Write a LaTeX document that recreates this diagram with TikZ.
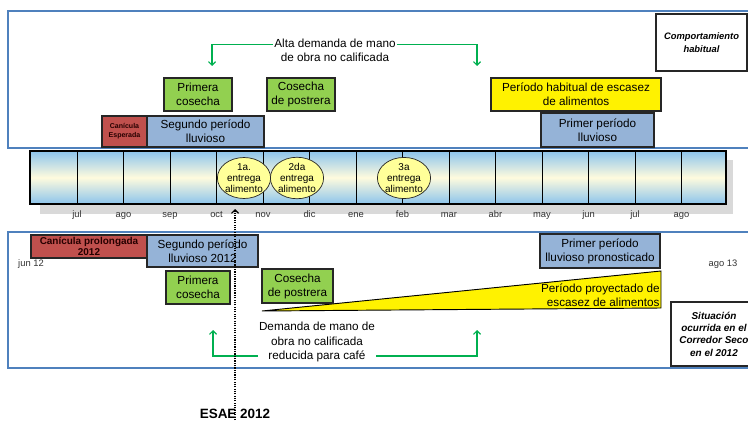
\documentclass[tikz,border=0pt]{standalone}
\usepackage{fontspec}
\setmainfont{Liberation Sans}
\usetikzlibrary{shapes.geometric,arrows.meta}
\definecolor{panelblue}{RGB}{79,129,189}
\definecolor{boxgreen}{RGB}{146,208,80}
\definecolor{boxblue}{RGB}{149,179,215}
\definecolor{boxred}{RGB}{192,80,77}
\definecolor{arrowgreen}{RGB}{0,176,80}
\definecolor{barblue}{RGB}{140,196,236}
\definecolor{barpale}{RGB}{255,251,222}
\definecolor{eggyellow}{RGB}{255,255,153}

\begin{document}
\begin{tikzpicture}[x=0.03cm,y=-0.03cm,
  panel/.style={draw=panelblue, line width=1pt},
  box/.style={draw=black!85, line width=0.9pt, align=center, inner sep=1pt,
    font=\fontsize{10}{12}\selectfont},
  harvest/.style={box, fill=boxgreen},
  rain/.style={box, fill=boxblue},
  drought/.style={box, fill=boxred, text=black!85!red,
    font=\bfseries\fontsize{6}{7.5}\selectfont},
  scarcity/.style={box, fill=yellow},
  note/.style={box, fill=white, font=\bfseries\itshape\fontsize{8}{10.5}\selectfont},
  plaintext/.style={align=center, inner sep=1pt, font=\fontsize{10}{11.8}\selectfont},
  month/.style={inner sep=1pt, text=black!80, text height=1.6ex, text depth=0.4ex,
    font=\fontsize{8}{9}\selectfont},
  delivery/.style={ellipse, draw=black!85, fill=eggyellow, line width=0.6pt,
    minimum width=1.56cm, minimum height=1.14cm, inner sep=0pt, align=center,
    font=\fontsize{8.5}{9.4}\selectfont},
  demand/.style={draw=arrowgreen, line width=1pt, -{Straight Barb[length=3pt,width=6pt]}}]

\useasboundingbox (0,0) rectangle (748,422);

% the two panels
\draw [panel] (8,11) rectangle (770,148);
\draw [panel] (8,232) rectangle (770,368);

% time line
\fill [black!15] (40,160) rectangle (733,214);
\shade [top color=barblue, bottom color=barblue, middle color=barpale]
  (30,151) rectangle (726,204);
\foreach \i in {1,...,14}
  \draw [line width=0.8pt] ({30.5+\i*46.5},151) -- ({30.5+\i*46.5},204);
\draw [line width=0.9pt] (30,151) rectangle (726,204);

\foreach \m [count=\i] in {jul,ago,sep,oct,nov,dic,ene,feb,mar,abr,may,jun,jul,ago}
  \node [month] (m\i) at ({30.5+\i*46.5},214) {\m};

\node [delivery] (e1) at (244,178) {1a.\\entrega\\alimento};
\node [delivery] (e2) at (297,178) {2da\\entrega\\alimento};
\node [delivery] (e3) at (404,178) {3a\\entrega\\alimento};

% usual behaviour
\node [harvest, minimum width=2.04cm, minimum height=0.99cm] (prim1) at (198,94.5) {Primera\\cosecha};
\node [harvest, minimum width=2.04cm, minimum height=0.99cm] (post1) at (301,94.5) {Cosecha\\de postrera};
\node [drought, minimum width=1.35cm, minimum height=0.93cm] (can1) at (124.5,131.5) {Canícula\\Esperada};
\node [rain, minimum width=3.51cm, minimum height=0.93cm] (seg1) at (205.5,131.5) {Segundo período\\lluvioso};
\node [scarcity, minimum width=5.1cm, minimum height=0.99cm] (esc1) at (576,94.5) {Período habitual de escasez\\de alimentos};
\node [rain, minimum width=3.39cm, minimum height=1.02cm] (pri1) at (597.5,130) {Primer período\\lluvioso};
\node [note, minimum width=2.73cm, minimum height=1.71cm] (comp) at (701.5,42.5) {Comportamiento\\habitual};

\node [plaintext] (alta) at (335,50.5) {Alta demanda de mano\\de obra no calificada};
\coordinate (alta l) at (212,66);
\coordinate (alta r) at (477,66);
\draw [demand] ([yshift=0.19cm]alta.west) -| (alta l);
\draw [demand] ([yshift=0.19cm]alta.east) -| (alta r);

% what happened in 2012
\fill [yellow] (262,311) -- (661,271) -- (661,308) -- cycle;
\draw [line width=0.8pt] (262,311) -- (661,271) -- (661,308) -- cycle;
\node [plaintext, anchor=east, align=right] (proy) at (661,295) {Período proyectado de\\escasez de alimentos};

\node [drought, minimum width=3.48cm, minimum height=0.69cm,
  font=\bfseries\fontsize{8.5}{9.4}\selectfont] (can2) at (89,246.5) {Canícula prolongada\\2012};
\node [rain, minimum width=3.33cm, minimum height=0.96cm] (seg2) at (202.5,251) {Segundo período\\lluvioso 2012};
\node [harvest, minimum width=1.92cm, minimum height=0.99cm] (prim2) at (198,287.5) {Primera\\cosecha};
\node [harvest, minimum width=2.13cm, minimum height=1.02cm] (post2) at (297.5,286) {Cosecha\\de postrera};
\node [rain, minimum width=3.6cm, minimum height=1.02cm] (pri2) at (600,251) {Primer período\\lluvioso pronosticado};
\node [note, minimum width=2.58cm, minimum height=1.92cm,
  font=\bfseries\itshape\fontsize{8.5}{10.5}\selectfont] (sit) at (714,334)
  {Situación\\ocurrida en el\\Corredor Seco\\en el 2012};

\node [month] (jun12) at (31,263) {jun 12};
\node [month] (ago13) at (723,263) {ago 13};

\node [plaintext, font=\fontsize{10}{12}\selectfont] (dem) at (317,342)
  {Demanda de mano de\\obra no calificada\\reducida para café};
\coordinate (dem l) at (213,330);
\coordinate (dem r) at (477,330);
\draw [demand] ([yshift=-0.42cm]dem.west) -| (dem l);
\draw [demand] ([yshift=-0.42cm]dem.east) -| (dem r);

% food security survey
\node [font=\bfseries\fontsize{11.5}{13}\selectfont, inner sep=1pt] (esae) at (235,414) {ESAE 2012};
\coordinate (esae tip) at (235,209);
\draw [densely dotted, line width=1pt, -{Straight Barb[length=3pt,width=6pt]}] (esae.south) -- (esae tip);

\end{tikzpicture}
\end{document}
